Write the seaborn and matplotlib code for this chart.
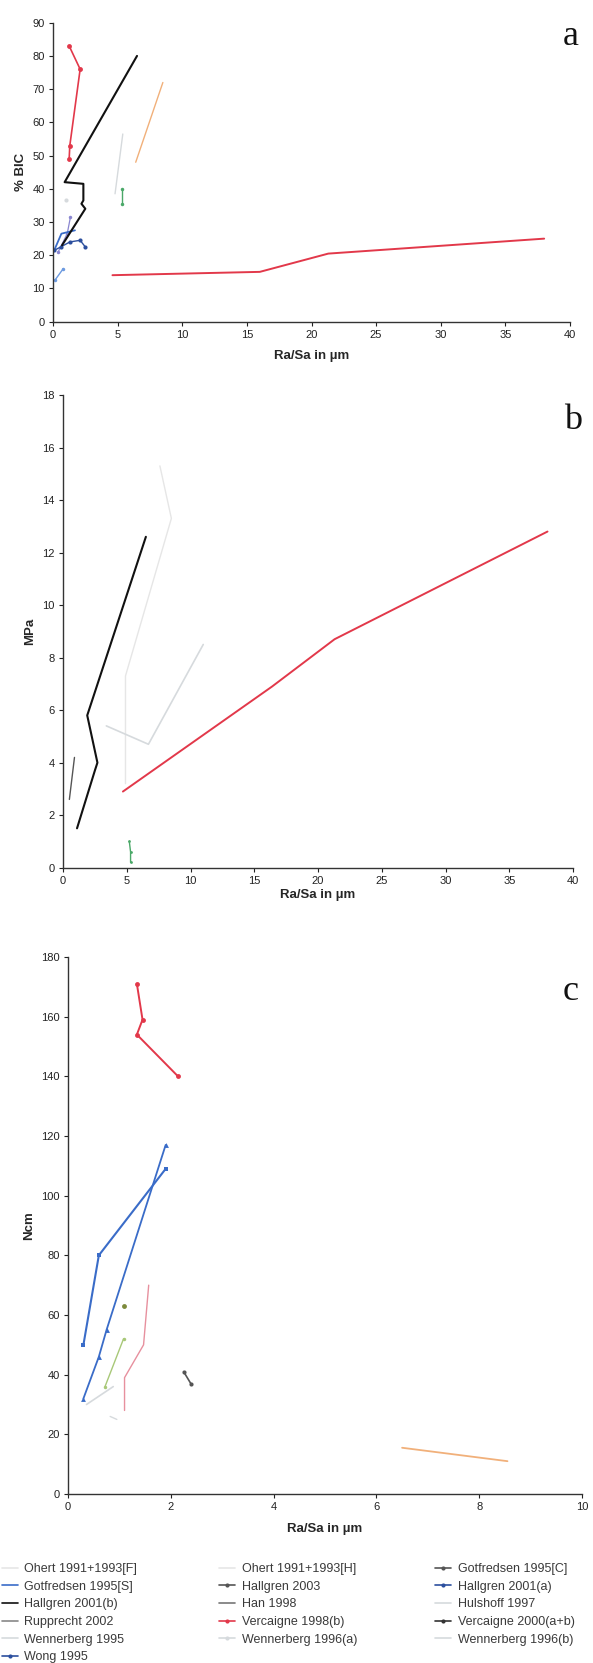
import matplotlib
matplotlib.use("Agg")
import matplotlib.pyplot as plt
import seaborn as sns
from matplotlib.lines import Line2D

# ---------------- data ----------------
# Panel a : % BIC vs Ra/Sa
a_verc98_x = [1.25, 2.1, 1.3, 1.25]
a_verc98_y = [83, 76, 53, 49]
a_hall01b_x = [6.5, 0.9, 2.35, 2.35, 2.2, 2.5, 0.7]
a_hall01b_y = [80, 42, 41.5, 36.5, 35.5, 34, 23]
a_han_x = [4.6, 16.0, 21.3, 38.0]
a_han_y = [14, 15, 20.5, 25]
a_gots_x = [0.15, 0.65, 1.7]
a_gots_y = [22, 26.5, 27.5]
a_wong_x = [0.1, 0.6, 1.3, 2.1, 2.5]
a_wong_y = [21.5, 22.5, 24, 24.5, 22.5]
a_hall01a_x = [0.15, 0.8]
a_hall01a_y = [12.5, 16]
a_hall03_x = [0.4, 1.1, 1.35]
a_hall03_y = [21, 26.5, 31.5]
a_wen95_x = [6.4, 8.5]
a_wen95_y = [48, 72]
a_hul_x = [4.8, 5.4]
a_hul_y = [38.5, 56.5]
a_rup_x = [5.3, 5.3]
a_rup_y = [40, 35.5]
a_wen96a_x = [1.0]
a_wen96a_y = [36.5]

# Panel b : MPa vs Ra/Sa
b_hall01b_x = [6.5, 1.9, 2.7, 2.5, 1.1]
b_hall01b_y = [12.6, 5.8, 4.0, 3.7, 1.5]
b_gotc_x = [0.9, 0.5]
b_gotc_y = [4.2, 2.6]
b_han_x = [4.7, 16.4, 21.3, 38.0]
b_han_y = [2.9, 6.9, 8.7, 12.8]
b_rup_x = [5.2, 5.3, 5.3]
b_rup_y = [1.0, 0.6, 0.2]
b_ohf_x = [3.4, 6.7, 11.0]
b_ohf_y = [5.4, 4.7, 8.5]
b_ohh_x = [7.6, 8.5, 4.9, 4.9]
b_ohh_y = [15.3, 13.3, 7.3, 3.2]

# Panel c : Ncm vs Ra/Sa
c_verc98_x = [1.34, 1.45, 1.34, 2.14]
c_verc98_y = [171, 159, 154, 140]
c_gots_x = [0.3, 0.6, 1.9]
c_gots_y = [50, 80, 109]
c_wong_x = [0.3, 0.6, 0.75, 1.9]
c_wong_y = [32, 46, 55, 117]
c_gotc_x = [1.08]
c_gotc_y = [63]
c_hul_x = [0.72, 1.08]
c_hul_y = [36, 52]
c_wen96b_x = [0.36, 0.88]
c_wen96b_y = [30, 36]
c_verc00_pink_x = [1.1, 1.1, 1.47, 1.57]
c_verc00_pink_y = [28, 39, 50, 70]
c_verc00_x = [2.25, 2.39]
c_verc00_y = [41, 37]
c_wen95_x = [6.5, 8.55]
c_wen95_y = [15.5, 11]
c_wen96a_x = [0.82, 0.95]
c_wen96a_y = [26, 25]

legend_labels = ["Ohert 1991+1993[F]", "Ohert 1991+1993[H]", "Gotfredsen 1995[C]",
                 "Gotfredsen 1995[S]", "Hallgren 2003", "Hallgren 2001(a)",
                 "Hallgren 2001(b)", "Han 1998", "Hulshoff 1997",
                 "Rupprecht 2002", "Vercaigne 1998(b)", "Vercaigne 2000(a+b)",
                 "Wennerberg 1995", "Wennerberg 1996(a)", "Wennerberg 1996(b)",
                 "Wong 1995"]

# ---------------- styles ----------------
RED = "#e2384a"
BLACK = "#111111"
BLUE = "#3a6cc8"
DBLUE = "#2c4f9e"
LBLUE = "#6c9ae0"
ORANGE = "#f1b07a"
LGRAY = "#d6dadd"
VLGRAY = "#e6e6e6"
GREEN = "#4aa868"
OLIVE = "#7d8a3c"
PINK = "#e7909e"
DGRAY = "#555555"

sns.set_style("ticks")
plt.rcParams["font.family"] = ["Liberation Sans", "DejaVu Sans"]

W, H = 593, 1663
fig = plt.figure(figsize=(W / 100, H / 100), dpi=100)


def rect(l, r, t, b):
    return [l / W, 1 - b / H, (r - l) / W, (b - t) / H]


def draw(ax, x, y, color, lw=1.2, marker=None, ms=3.5):
    sns.lineplot(x=x, y=y, ax=ax, color=color, lw=lw, sort=False,
                 estimator=None, marker=marker, markersize=ms,
                 markeredgewidth=0, legend=False)


def style(ax, xmax, xstep, ymax, ystep, ylabel, xpad):
    ax.set_xlim(0, xmax)
    ax.set_ylim(0, ymax)
    ax.set_xticks(range(0, xmax + 1, xstep))
    ax.set_yticks(range(0, ymax + 1, ystep))
    ax.tick_params(labelsize=8, length=3, width=0.8, colors="#222222",
                   pad=3)
    for s in ["top", "right"]:
        ax.spines[s].set_visible(False)
    for s in ["left", "bottom"]:
        ax.spines[s].set_linewidth(1.0)
        ax.spines[s].set_color("#333333")
    ax.set_ylabel(ylabel, fontsize=9.5, fontweight="bold", labelpad=4)
    ax.set_xlabel("Ra/Sa in µm", fontsize=9.5, fontweight="bold",
                  labelpad=xpad)


# ---------------- panel a ----------------
axa = fig.add_axes(rect(53, 570, 22.7, 321.7))
draw(axa, a_wen95_x, a_wen95_y, ORANGE, lw=1.0)
draw(axa, a_hul_x, a_hul_y, LGRAY, lw=1.0)
draw(axa, a_rup_x, a_rup_y, GREEN, lw=1.0, marker="o", ms=2.5)
draw(axa, a_wen96a_x, a_wen96a_y, LGRAY, marker="o", ms=3)
draw(axa, a_hall03_x, a_hall03_y, "#8a86d0", lw=0.9, marker="o", ms=2.5)
draw(axa, a_hall01a_x, a_hall01a_y, LBLUE, lw=1.0, marker="o", ms=2.5)
draw(axa, a_gots_x, a_gots_y, BLUE, lw=1.3)
draw(axa, a_wong_x, a_wong_y, DBLUE, lw=1.0, marker="o", ms=3)
draw(axa, a_han_x, a_han_y, RED, lw=1.4)
draw(axa, a_hall01b_x, a_hall01b_y, BLACK, lw=1.5)
draw(axa, a_verc98_x, a_verc98_y, RED, lw=1.2, marker="o", ms=3.5)
style(axa, 40, 5, 90, 10, "% BIC", 7)

# ---------------- panel b ----------------
axb = fig.add_axes(rect(63, 573, 395, 867.7))
draw(axb, b_ohh_x, b_ohh_y, VLGRAY, lw=1.0)
draw(axb, b_ohf_x, b_ohf_y, LGRAY, lw=1.2)
draw(axb, b_rup_x, b_rup_y, GREEN, lw=1.0, marker="o", ms=2)
draw(axb, b_gotc_x, b_gotc_y, DGRAY, lw=1.0)
draw(axb, b_han_x, b_han_y, RED, lw=1.4)
draw(axb, b_hall01b_x, b_hall01b_y, BLACK, lw=1.5)
style(axb, 40, 5, 18, 2, "MPa", 2)

# ---------------- panel c ----------------
axc = fig.add_axes(rect(68, 582, 957, 1494))
draw(axc, c_wen96a_x, c_wen96a_y, LGRAY, lw=1.0)
draw(axc, c_wen96b_x, c_wen96b_y, LGRAY, lw=1.2)
draw(axc, c_hul_x, c_hul_y, "#a8c878", lw=1.0, marker="o", ms=2.5)
draw(axc, c_verc00_pink_x, c_verc00_pink_y, PINK, lw=1.0)
draw(axc, c_gotc_x, c_gotc_y, OLIVE, marker="o", ms=3.5)
draw(axc, c_verc00_x, c_verc00_y, DGRAY, lw=1.2, marker="o", ms=3)
draw(axc, c_wen95_x, c_wen95_y, ORANGE, lw=1.3)
draw(axc, c_wong_x, c_wong_y, BLUE, lw=1.3, marker="^", ms=3.5)
draw(axc, c_gots_x, c_gots_y, BLUE, lw=1.5, marker="s", ms=3.5)
draw(axc, c_verc98_x, c_verc98_y, RED, lw=1.4, marker="o", ms=3.5)
style(axc, 10, 2, 180, 20, "Ncm", 8)

# panel letters
for letter, cx, base in [("a", 571, 45), ("b", 573, 429), ("c", 571, 1000)]:
    fig.text(cx / W, 1 - base / H, letter, fontsize=26, ha="center",
             va="baseline", family="Liberation Serif", color="#111111")

# ---------------- legend (3 columns) ----------------
leg_colors = [VLGRAY, VLGRAY, DGRAY, BLUE, DGRAY, DBLUE, BLACK, "#777777",
              LGRAY, "#888888", RED, "#333333", LGRAY, LGRAY, LGRAY, DBLUE]
leg_markers = [None, None, "o", None, "o", "o", None, None, None, None,
               "o", "o", None, "o", None, "o"]
handles = []
for c, m in zip(leg_colors, leg_markers):
    handles.append(Line2D([], [], color=c, lw=1.2, marker=m, markersize=3,
                          markeredgewidth=0))

col_x = [2, 219, 435]
for ci in range(3):
    idx = list(range(ci, len(legend_labels), 3))
    fig.legend([handles[i] for i in idx], [legend_labels[i] for i in idx],
               loc="upper left", bbox_to_anchor=(col_x[ci] / W, 1 - 1563 / H),
               frameon=False, fontsize=9, handlelength=1.3,
               handletextpad=0.5, labelspacing=0.45, borderaxespad=0,
               borderpad=0, labelcolor="#3a3a3a")

fig.savefig("out.png", dpi=100)
